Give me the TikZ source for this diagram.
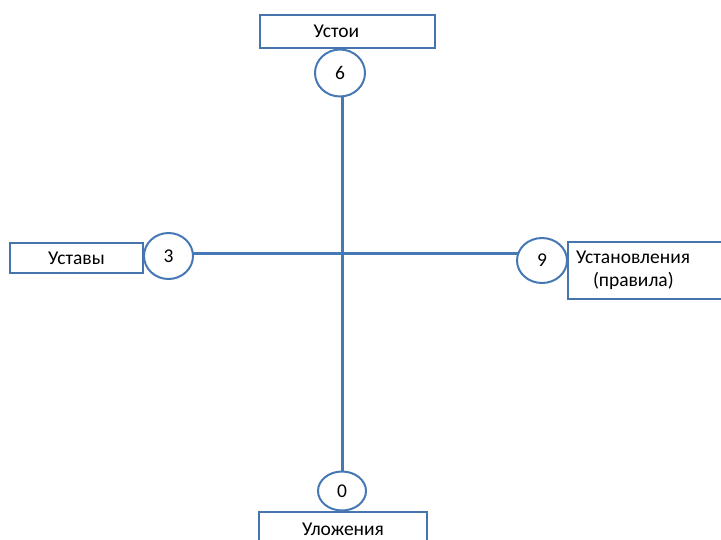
\documentclass[tikz,border=0pt]{standalone}
\usepackage{fontspec}
\setmainfont{Carlito}
\usetikzlibrary{shapes.geometric,backgrounds}
\definecolor{lineblue}{RGB}{70,120,182}
\definecolor{boxblue}{RGB}{70,116,172}
\begin{document}
\begin{tikzpicture}[x=1pt,y=-1pt,
  every node/.style={font=\fontsize{19.5}{23}\selectfont, text=black},
  box/.style={draw=boxblue, line width=2pt, fill=white, rectangle, inner sep=0pt},
  num/.style={draw=lineblue, line width=2pt, fill=white, ellipse, inner sep=0pt},
  conn/.style={draw=lineblue, line width=3.2pt}]
\useasboundingbox (0,0) rectangle (721,539);
\clip (0,0) rectangle (721,539);
% boxes
\node[box, minimum width=175pt, minimum height=33pt] (top) at (347.5,31.5) {\hspace*{-22pt}Устои};
\node[box, minimum width=133pt, minimum height=30pt] (left) at (76.5,258) {Уставы};
\node[box, minimum width=162pt, minimum height=57pt, text width=146pt, align=left] (right) at (649,270.5) {Установления\\\hspace*{17pt}(правила)};
\node[box, minimum width=168pt, minimum height=34pt] (bottom) at (343,529) {Уложения};
% circles
\node[num, minimum width=50pt, minimum height=47pt] (c6) at (340,73) {6};
\node[num, minimum width=49pt, minimum height=46pt] (c3) at (168.5,256) {3};
\node[num, minimum width=50pt, minimum height=45pt] (c9) at (542,260.5) {9};
\node[num, minimum width=48pt, minimum height=39pt] (c0) at (342,491) {0};
% connectors
\begin{pgfonlayer}{background}
\draw[conn] (c3.center |- 0,253.5) -- (c9.center |- 0,253.5);
\draw[conn] (c6.center -| 342.7,0) -- (c0.center -| 342.7,0);
\end{pgfonlayer}
\end{tikzpicture}
\end{document}
